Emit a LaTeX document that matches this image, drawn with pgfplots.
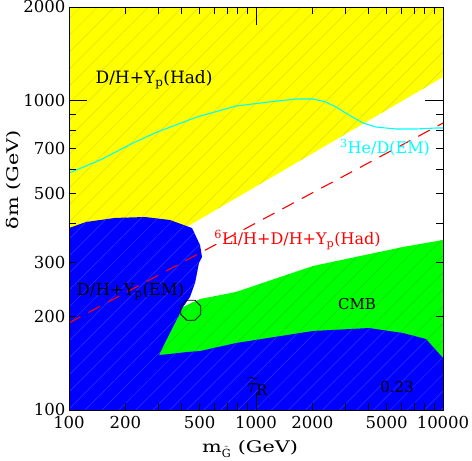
\documentclass[border=0pt]{standalone}
\usepackage{fontspec}
\setmainfont{DejaVu Serif}
\newfontfamily\xwidefont[FakeStretch=1.3]{DejaVu Serif}
\usepackage{graphicx}
\usepackage{pgfplots}
\pgfplotsset{compat=1.18}
\usetikzlibrary{patterns.meta}
\definecolor{pblue}{RGB}{0,0,255}
\definecolor{pyellow}{RGB}{255,255,0}
\definecolor{pgreen}{RGB}{0,255,0}
\definecolor{pcyan}{RGB}{0,255,255}
\definecolor{pred}{RGB}{255,0,0}
\pgfdeclareplotmark{octagon}{%
 \pgfpathmoveto{\pgfqpoint{0.924\pgfplotmarksize}{0.383\pgfplotmarksize}}%
 \pgfpathlineto{\pgfqpoint{0.383\pgfplotmarksize}{0.924\pgfplotmarksize}}%
 \pgfpathlineto{\pgfqpoint{-0.383\pgfplotmarksize}{0.924\pgfplotmarksize}}%
 \pgfpathlineto{\pgfqpoint{-0.924\pgfplotmarksize}{0.383\pgfplotmarksize}}%
 \pgfpathlineto{\pgfqpoint{-0.924\pgfplotmarksize}{-0.383\pgfplotmarksize}}%
 \pgfpathlineto{\pgfqpoint{-0.383\pgfplotmarksize}{-0.924\pgfplotmarksize}}%
 \pgfpathlineto{\pgfqpoint{0.383\pgfplotmarksize}{-0.924\pgfplotmarksize}}%
 \pgfpathlineto{\pgfqpoint{0.924\pgfplotmarksize}{-0.383\pgfplotmarksize}}%
 \pgfpathclose\pgfusepathqstroke}
\begin{document}
\begin{tikzpicture}
\begin{axis}[name=ax,
  xmode=log, ymode=log,
  scale only axis, width=374bp, height=403bp,
  xmin=100, xmax=10000, ymin=100, ymax=2000,
  enlargelimits=false, axis on top,
  xtick={100,1000,10000}, xticklabels={100,1000,10000},
  extra x ticks={200,500,2000,5000}, extra x tick labels={200,500,2000,5000},
  ytick={100,1000}, yticklabels={100,1000},
  extra y ticks={200,300,500,700,2000}, extra y tick labels={200,300,500,700,2000},
  minor xtick={200,300,400,500,600,700,800,900,2000,3000,4000,5000,6000,7000,8000,9000},
  minor ytick={200,300,400,500,600,700,800,900},
  major tick length=18bp, minor tick length=7bp,
  extra x tick style={major tick length=7bp},
  extra y tick style={major tick length=7bp},
  tick align=inside,
  tick style={black, line width=0.8bp},
  axis line style={line width=0.8bp},
  /pgf/number format/assume math mode=true,
  tick label style={font=\fontsize{16.5bp}{19bp}\selectfont},
  xticklabel style={yshift=-3bp},
  label style={font=\xwidefont\fontsize{16bp}{19bp}\selectfont},
  xlabel={m$_{\tilde{\mathrm{G}}}$ (GeV)},
  ylabel={δm (GeV)},
  xlabel style={at={(axis description cs:0.484,-0.097)}, anchor=center},
  ylabel style={at={(axis description cs:-0.147,0.571)}, anchor=center},
]
% yellow region D/H+Yp(Had)
\addplot[draw=none, fill=pyellow, postaction={pattern={Lines[angle=45,distance=12bp,line width=0.5bp]}, pattern color=pyellow!88!black}]
 coordinates {(100,2000) (10000,2000) (10000,1188) (420,388) (100,330)} -- cycle;
% green region CMB
\addplot[draw=none, fill=pgreen, postaction={pattern={Lines[angle=45,distance=12bp,line width=0.5bp]}, pattern color=pgreen!88!black}]
 coordinates {(407,215) (501.8,228.1) (781.6,240.4) (2017,291.6) (6109,335.9) (10000,353.8) (10000,100) (300,100) (302.9,150.5)} -- cycle;
% blue region
\addplot[draw=none, fill=pblue, postaction={pattern={Lines[angle=45,distance=12bp,line width=0.5bp]}, pattern color=pblue!80!white}]
 coordinates {(100,386.8) (123.3,404.5) (176,416.8) (255,419.8) (346.7,410.5) (454.8,386.8) (501.8,341) (514.3,311.8) (495.6,298.2) (471.9,257) (443.6,231.6) (407,215) (302.9,150.5) (346.7,151.6) (427.6,153.9) (501.8,155) (781.6,164.5) (2017,179.9) (4021,183.9) (6109,177.2) (8110,169.5) (10000,147.2) (10000,100) (100,100)} -- cycle;
% cyan 3He/D(EM) line
\addplot[color=pcyan, line width=1.1bp, no markers] coordinates {
 (100,582) (146.5,641) (219.9,727.6) (295.6,789.5) (483.5,882.8) (781.6,957.8)
 (1173,986.8) (1636,1009) (2017,1009) (2367,986.8) (2678,950.6) (3143,896)
 (3735,844.2) (4382,819.5) (5606,807.4) (7171,807.4) (9175,813.4) (10000,813.4)};
% red dashed 6Li line
\addplot[color=pred, line width=1.1bp, no markers, dash pattern=on 13bp off 9bp] coordinates {(100,191) (10000,844)};
% octagon marker
\addplot[only marks, mark=octagon, mark size=10.8bp, mark options={draw=black, line width=0.8bp}] coordinates {(448,210)};
% labels
\node[anchor=base, font=\fontsize{17bp}{20bp}\selectfont] at (axis cs:285,1132) {D/H+Y\textsubscript{p}(Had)};
\node[anchor=base, text=pcyan, font=\fontsize{16bp}{19bp}\selectfont] at (axis cs:4895,673) {\textsuperscript{3}He/D(EM)};
\node[anchor=base, text=pred, font=\fontsize{16bp}{19bp}\selectfont] at (axis cs:1667,341) {\textsuperscript{6}Li/H+D/H+Y\textsubscript{p}(Had)};
\node[anchor=base, font=\fontsize{16.5bp}{19bp}\selectfont] at (axis cs:213.3,235) {D/H+Y\textsubscript{p}(EM)};
\node[anchor=base, font=\fontsize{15bp}{18bp}\selectfont] at (axis cs:3469,210.3) {CMB};
\node[anchor=base west, inner sep=0pt] at (axis cs:895,114.3) {\scalebox{2.1}{$\widetilde{\tau}_{\mathrm{R}}$}};
\node[anchor=base, font=\fontsize{15bp}{18bp}\selectfont] at (axis cs:5675,114.3) {0.23};
\end{axis}
\pgfresetboundingbox
\path[use as bounding box] ([xshift=-69bp,yshift=-51bp]ax.south west) rectangle ([xshift=29bp,yshift=7bp]ax.north east);
\end{tikzpicture}
\end{document}
